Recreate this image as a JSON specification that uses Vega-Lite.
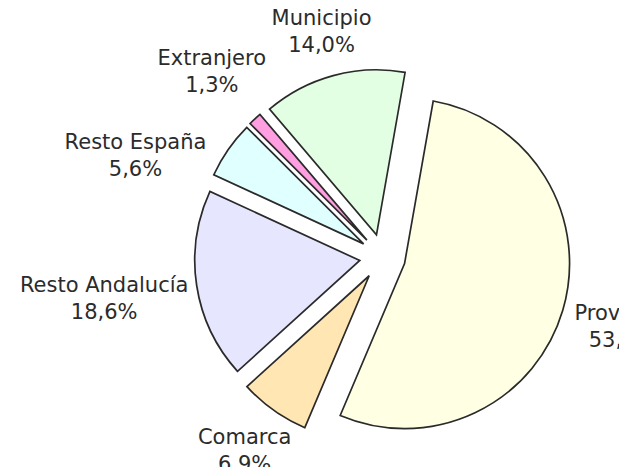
{
  "$schema": "https://vega.github.io/schema/vega-lite/v6.json",
  "width": 619,
  "height": 467,
  "autosize": {"type": "none"},
  "padding": 0,
  "background": "white",
  "config": {"view": {"stroke": null}},
  "data": {
    "values": [
      {"origen": "Provincia", "pct": 53.6},
      {"origen": "Comarca", "pct": 6.9},
      {"origen": "Resto Andalucía", "pct": 18.6},
      {"origen": "Resto España", "pct": 5.6},
      {"origen": "Extranjero", "pct": 1.3},
      {"origen": "Municipio", "pct": 14.0}
    ]
  },
  "transform": [
    {"window": [{"op": "row_number", "as": "idx"}]},
    {"stack": "pct", "groupby": [], "sort": [{"field": "idx", "order": "ascending"}], "as": ["p0", "p1"]},
    {"calculate": "PI / 18 + (datum.p0 + datum.p1) * PI / 100", "as": "a"},
    {"calculate": "23 * sin(datum.a)", "as": "cx"},
    {"calculate": "23 * cos(datum.a)", "as": "cy"},
    {"calculate": "datum.a + (datum.origen === 'Resto España' ? -0.223 : 0)", "as": "la"},
    {"calculate": "193 + 5.7 * length(datum.origen) * abs(sin(datum.la)) + 27 * abs(cos(datum.la))", "as": "ld"},
    {"calculate": "datum.ld * sin(datum.la)", "as": "lx"},
    {"calculate": "datum.ld * cos(datum.la)", "as": "ly"},
    {"calculate": "datum.origen + '\\n' + replace(format(datum.pct, '.1f'), '.', ',') + '%'", "as": "lbl"}
  ],
  "layer": [
    {
      "mark": {"type": "arc", "radius": 165, "stroke": "#2a2a2a", "strokeWidth": 1.7},
      "encoding": {
        "x": {"field": "cx", "type": "quantitative", "stack": null, "axis": null,
              "scale": {"domain": [-382.5, 236.5], "nice": false, "zero": false}},
        "y": {"field": "cy", "type": "quantitative", "stack": null, "axis": null,
              "scale": {"domain": [-210, 257], "nice": false, "zero": false}},
        "theta": {"field": "p0", "type": "quantitative", "stack": null,
                  "scale": {"domain": [0, 100], "range": [0.174533, 6.457718]}},
        "theta2": {"field": "p1"},
        "color": {"field": "origen", "type": "nominal", "legend": null,
                  "scale": {"domain": ["Provincia", "Comarca", "Resto Andalucía", "Resto España", "Extranjero", "Municipio"],
                            "range": ["#FFFFE3", "#FFE6B3", "#E6E6FF", "#E0FFFF", "#FF9FE2", "#E2FFE4"]}},
        "strokeDash": {"field": "origen", "type": "nominal", "legend": null,
                       "scale": {"domain": ["Provincia", "Comarca", "Resto Andalucía", "Resto España", "Extranjero", "Municipio"],
                                 "range": [[4, 2], [1, 0], [1, 0], [4, 2], [1, 0], [4, 2]]}}
      }
    },
    {
      "mark": {"type": "text", "font": "DejaVu Sans", "fontSize": 21, "lineHeight": 27, "lineBreak": "\n",
               "align": "center", "baseline": "middle", "dy": -13.5, "color": "#2b2b2b"},
      "encoding": {
        "x": {"field": "lx", "type": "quantitative", "stack": null, "axis": null,
              "scale": {"domain": [-382.5, 236.5], "nice": false, "zero": false}},
        "y": {"field": "ly", "type": "quantitative", "stack": null, "axis": null,
              "scale": {"domain": [-210, 257], "nice": false, "zero": false}},
        "text": {"field": "lbl", "type": "nominal"}
      }
    }
  ]
}
